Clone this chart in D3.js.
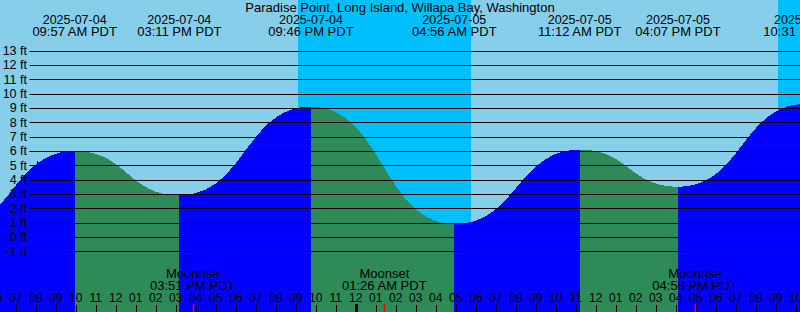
<!DOCTYPE html>
<html>
<head>
<meta charset="utf-8">
<script src="https://cdn.jsdelivr.net/npm/d3@7"></script>
<style>
  html, body { margin: 0; padding: 0; background: #87CEEB; }
  svg { display: block; }
  text { font-family: "Liberation Sans", Arial, sans-serif; fill: #000; }
</style>
</head>
<body>
<svg id="chart" width="800" height="312"></svg>
<script>
// ---- data ----
const title = "Paradise Point, Long Island, Willapa Bay, Washington";
const tideTimes   = ["2025-07-04 03:33", "2025-07-04 09:57", "2025-07-04 15:11", "2025-07-04 21:46",
                     "2025-07-05 04:56", "2025-07-05 11:12", "2025-07-05 16:07", "2025-07-05 22:31"];
const tideHeights = [0.3, 6.0, 2.9, 9.1, 0.9, 6.1, 3.5, 9.3];
const sunsetTimes  = ["2025-07-04 21:06", "2025-07-05 21:06"];
const sunriseTimes = ["2025-07-05 05:47", "2025-07-06 05:48"];
const moonTimes  = ["2025-07-04 15:51", "2025-07-05 01:26", "2025-07-05 16:58"];
const moonLabels = ["Moonrise", "Moonset", "Moonrise"];
const yTicks = [-1, 0, 1, 2, 3, 4, 5, 6, 7, 8, 9, 10, 11, 12, 13];
const markTime = "2025-07-04 08:05";
const markHeight = 5;
const viewStart = "2025-07-04 06:13";
const viewEnd   = "2025-07-05 22:13";

// ---- setup ----
const W = 800, H = 312;
const parse = d3.utcParse("%Y-%m-%d %H:%M");
const fmtDate = d3.utcFormat("%Y-%m-%d");
const fmtTime = d3.utcFormat("%I:%M %p PDT");
const fmtHour = d3.utcFormat("%I");

const svg = d3.select("#chart");
const x = d3.scaleUtc().domain([parse(viewStart), parse(viewEnd)]).range([0, W]);
const y = d3.scaleLinear().domain([-1, 13]).range([251.3, 50.6]);

const tides = tideTimes.map((t, i) => ({ t: parse(t), h: tideHeights[i] }));

// background day
svg.append("rect").attr("x", 0).attr("y", 0).attr("width", W).attr("height", H).attr("fill", "#87CEEB");

// nights
svg.append("g").selectAll("rect")
  .data(sunsetTimes.map((s, i) => [parse(s), parse(sunriseTimes[i])]))
  .join("rect")
  .attr("x", d => x(d[0]))
  .attr("y", 0)
  .attr("width", d => x(d[1]) - x(d[0]))
  .attr("height", H)
  .attr("fill", "#00BFFF")
  .attr("shape-rendering", "crispEdges");

// tide segments
const area = d3.area()
  .x(d => x(d.t))
  .y0(H)
  .y1(d => y(d.h))
  .curve(d3.curveBumpX);

const segs = d3.pairs(tides);
svg.append("g").selectAll("path")
  .data(segs)
  .join("path")
  .attr("d", d => area(d))
  .attr("fill", d => d[1].h > d[0].h ? "#0000FF" : "#2E8B57")
  .attr("shape-rendering", "crispEdges");

// grid lines and y labels
const gridG = svg.append("g");
gridG.selectAll("line")
  .data(yTicks)
  .join("line")
  .attr("x1", 29.5).attr("x2", W)
  .attr("y1", d => Math.round(y(d)) + 0.5)
  .attr("y2", d => Math.round(y(d)) + 0.5)
  .attr("stroke", "#000").attr("stroke-width", 1);
gridG.selectAll("text")
  .data(yTicks)
  .join("text")
  .attr("x", 27)
  .attr("y", d => y(d) + 4.5)
  .attr("text-anchor", "end")
  .attr("font-size", 12.5)
  .text(d => d + " ft");

// small marker
svg.append("line")
  .attr("x1", Math.round(x(parse(markTime))) + 0.5)
  .attr("x2", Math.round(x(parse(markTime))) + 0.5)
  .attr("y1", y(markHeight) - 4).attr("y2", y(markHeight) + 4)
  .attr("stroke", "#000").attr("stroke-width", 1);

// title
svg.append("text")
  .attr("x", W / 2).attr("y", 12)
  .attr("text-anchor", "middle")
  .attr("font-size", 13)
  .text(title);

// tide extreme labels
const visTides = tides.filter(d => x(d.t) > -40 && x(d.t) < W + 40);
const topG = svg.append("g").selectAll("g").data(visTides).join("g");
topG.append("text")
  .attr("x", d => x(d.t)).attr("y", 24)
  .attr("text-anchor", "middle").attr("font-size", 12.5)
  .text(d => fmtDate(d.t));
topG.append("text")
  .attr("x", d => x(d.t)).attr("y", 36)
  .attr("text-anchor", "middle").attr("font-size", 13)
  .text(d => fmtTime(d.t));

// hour axis
const hours = d3.utcHour.range(d3.utcHour.offset(x.domain()[0], -1), d3.utcHour.offset(x.domain()[1], 1));
const axG = svg.append("g");
axG.selectAll("text")
  .data(hours)
  .join("text")
  .attr("x", d => x(d)).attr("y", 302)
  .attr("text-anchor", "middle").attr("font-size", 12)
  .text(d => fmtHour(d));
axG.selectAll("line")
  .data(hours)
  .join("line")
  .attr("x1", d => Math.round(x(d)) + 0.5).attr("x2", d => Math.round(x(d)) + 0.5)
  .attr("y1", d => d.getUTCHours() === 0 ? 304 : 305).attr("y2", H)
  .attr("stroke", "#000")
  .attr("stroke-width", d => d.getUTCHours() === 0 ? 3 : 1);

// moon events
const moons = moonTimes.map((t, i) => ({ t: parse(t), label: moonLabels[i] }));
const moonG = svg.append("g").selectAll("g").data(moons).join("g");
moonG.append("line")
  .attr("x1", d => Math.round(x(d.t)) + 0.5).attr("x2", d => Math.round(x(d.t)) + 0.5)
  .attr("y1", 304).attr("y2", H)
  .attr("stroke", "#FF0000").attr("stroke-width", 1.5);
moonG.append("text")
  .attr("x", d => x(d.t)).attr("y", 278)
  .attr("text-anchor", "middle").attr("font-size", 13)
  .text(d => d.label);
moonG.append("text")
  .attr("x", d => x(d.t)).attr("y", 290)
  .attr("text-anchor", "middle").attr("font-size", 13)
  .text(d => fmtTime(d.t));
</script>
</body>
</html>
